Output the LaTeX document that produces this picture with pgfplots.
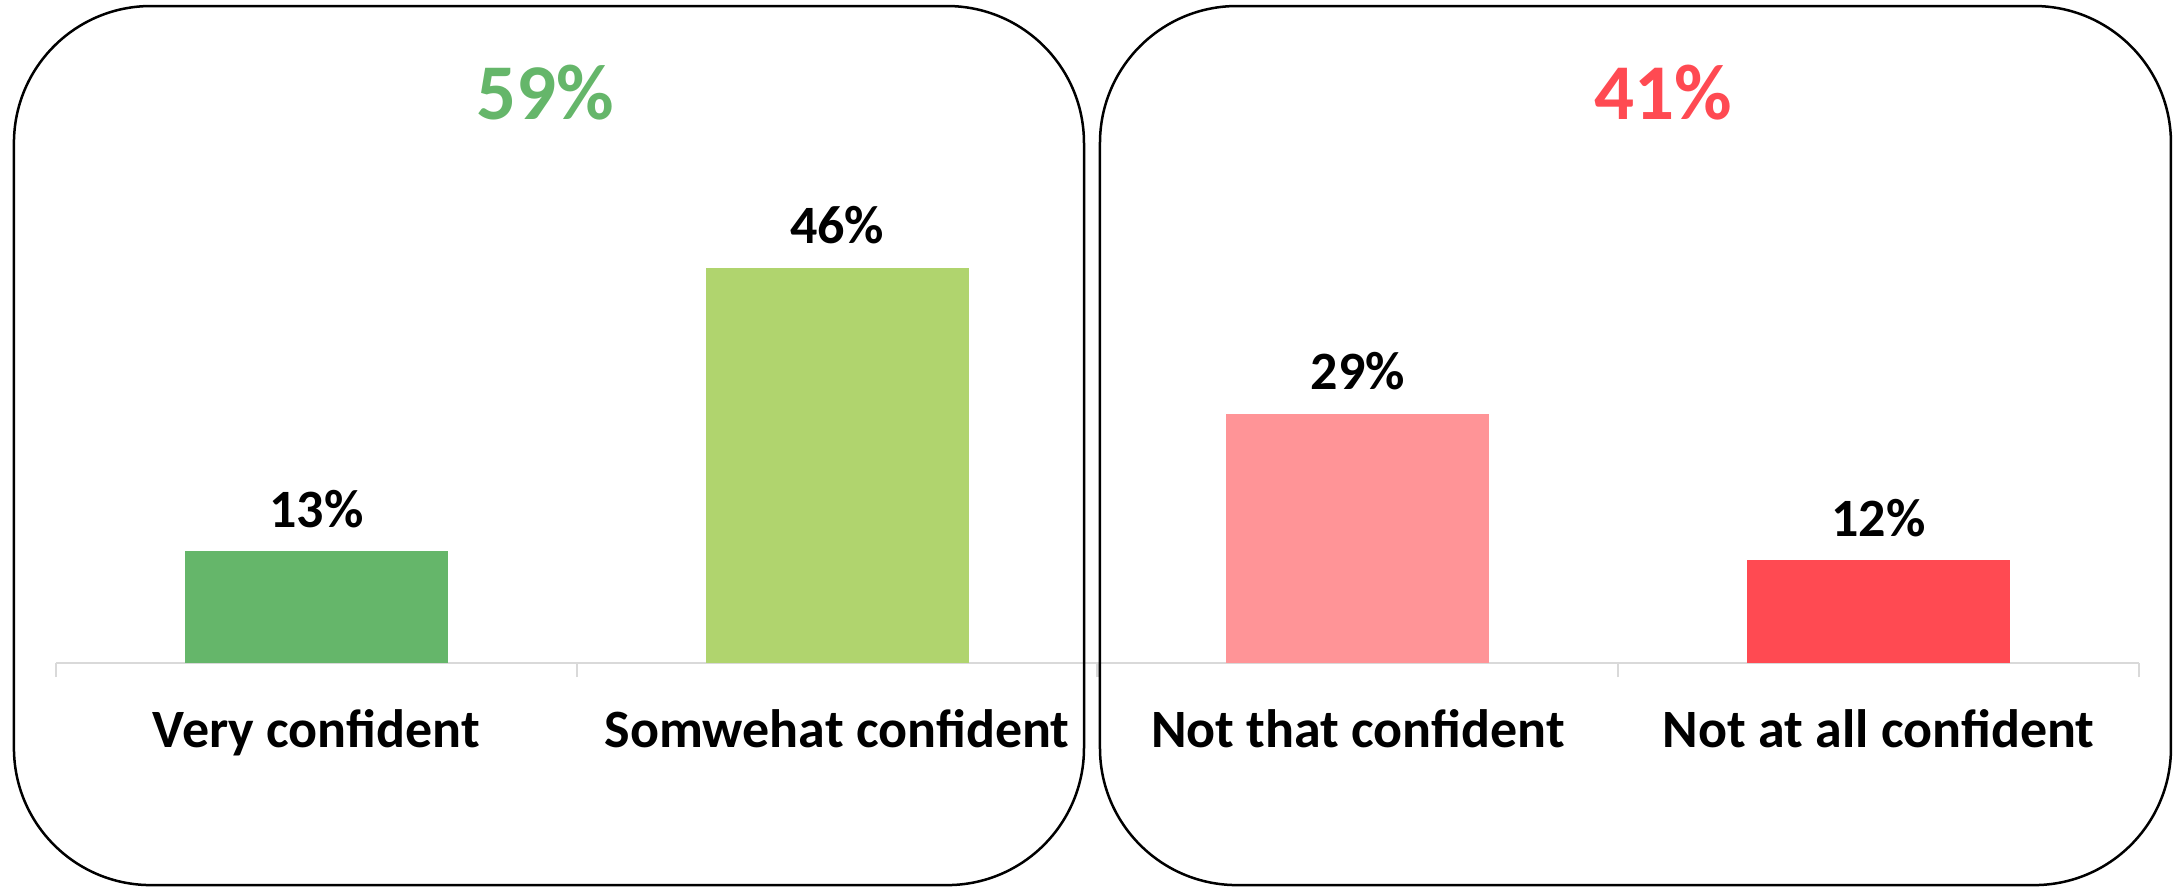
\documentclass[border=0pt]{standalone}
\usepackage{fontspec}
\setmainfont{Carlito}
\usepackage{pgfplots}
\pgfplotsset{compat=1.18}

\definecolor{darkgreen}{RGB}{101,182,106}
\definecolor{lightgreen}{RGB}{176,212,110}
\definecolor{pink}{RGB}{255,148,151}
\definecolor{brightred}{RGB}{255,74,82}
\definecolor{axisgray}{RGB}{217,217,217}

\begin{document}
\begin{tikzpicture}
\begin{axis}[
  scale only axis,
  width=833.2pt,
  height=206.2pt,
  xmin=-0.5, xmax=3.5,
  ymin=0, ymax=60,
  enlargelimits=false,
  clip=false,
  hide y axis,
  axis x line*=bottom,
  x axis line style={draw=axisgray, line width=0.9pt},
  xtick={0,1,2,3},
  xticklabels={Very confident, Somwehat confident, Not that confident, Not at all confident},
  major x tick style={draw=none},
  minor xtick={-0.5,0.5,1.5,2.5,3.5},
  minor x tick style={draw=axisgray, line width=0.9pt},
  tick align=outside,
  minor tick length=5.6pt,
  xticklabel style={font=\bfseries\fontsize{21.6}{24}\selectfont, anchor=base, yshift=-29.6pt},
  /pgf/number format/assume math mode=true,
  ybar,
  bar width=0.505,
  bar shift=0pt,
  nodes near coords={\pgfmathprintnumber{\pgfplotspointmeta}\%},
  every node near coord/.append style={font=\bfseries\fontsize{21.6}{24}\selectfont, anchor=base, yshift=9.6pt, text=black},
]
\addplot[fill=darkgreen, draw=none] coordinates {(0,13)};
\addplot[fill=lightgreen, draw=none] coordinates {(1,46)};
\addplot[fill=pink, draw=none] coordinates {(2,29)};
\addplot[fill=brightred, draw=none] coordinates {(3,12)};

% canvas and the two rounded panels
\path (axis cs:-0.6075,77.18) rectangle (axis cs:3.5807,-26.08);
\draw[line width=1pt, rounded corners=54.8pt] (axis cs:-0.5807,76.48) rectangle (axis cs:1.4741,-25.84);
\draw[line width=1pt, rounded corners=54.8pt] (axis cs:1.5048,76.48) rectangle (axis cs:3.5614,-25.84);

\node[anchor=base, text=darkgreen, font=\bfseries\fontsize{31.6}{36}\selectfont] at (axis cs:0.439,63.3) {59\%};
\node[anchor=base, text=brightred, font=\bfseries\fontsize{31.6}{36}\selectfont] at (axis cs:2.586,63.3) {41\%};
\end{axis}
\end{tikzpicture}
\end{document}
